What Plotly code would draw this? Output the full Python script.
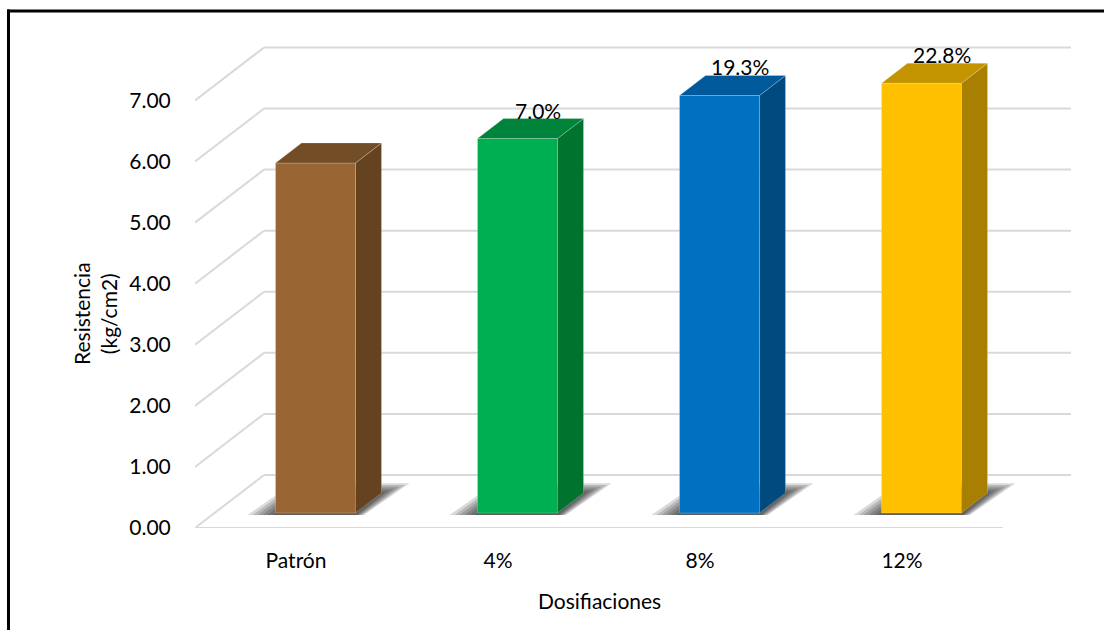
import plotly.graph_objects as go

# ---- data ----
categories = ["Patrón", "4%", "8%", "12%"]
resistencia = [5.730, 6.131, 6.836, 7.037]          # kg/cm2
y_ticks = [0, 1, 2, 3, 4, 5, 6, 7]

front_colors = ["#996633", "#00b050", "#0070c0", "#ffc000"]
side_colors = ["#654321", "#00732f", "#004a80", "#a87f00"]
top_colors = ["#734d26", "#00843c", "#00599a", "#c49300"]

# ---- figure geometry (pixels) ----
W, H = 1118, 644
M_L, M_R, M_T, M_B = 195, 47, 40, 116
PW, PH = W - M_L - M_R, H - M_T - M_B
CAT_PX = 202.0                # width of one category on the front plane
Y_MAX = 7.99
PX_Y = PH / Y_MAX             # pixels per value unit
X_MIN = -0.5
X_MAX = X_MIN + PW / CAT_PX

def dx(px):
    return px / CAT_PX

def dy(px):
    return px / PX_Y

# oblique depth of the walls and the bars
WALL_DX, WALL_DY = dx(69), dy(53)
BAR_OFF_DX, BAR_OFF_DY = dx(19.5), dy(15)
BAR_D_DX, BAR_D_DY = dx(26), dy(20)
BAR_W = dx(80)
X_FRONT_END = len(categories) - 0.5

def to_paper_x(px):
    return (px - M_L) / PW

def to_paper_y(py):
    return (H - M_B - py) / PH

shapes = []
GRID = dict(color="#d9d9d9", width=2)

# side wall + back wall gridlines
for k in y_ticks:
    shapes.append(dict(type="line", xref="x", yref="y", layer="below",
                       x0=X_MIN, y0=k, x1=X_MIN + WALL_DX, y1=k + WALL_DY, line=GRID))
    shapes.append(dict(type="line", xref="x", yref="y", layer="below",
                       x0=X_MIN + WALL_DX, y0=k + WALL_DY, x1=X_MAX, y1=k + WALL_DY, line=GRID))
# front edge of the floor
shapes.append(dict(type="line", xref="x", yref="y", layer="below",
                   x0=X_MIN, y0=0, x1=X_FRONT_END, y1=0, line=GRID))

def poly(pts, close=True):
    p = "M " + " L ".join(f"{x:.5f},{y:.5f}" for x, y in pts)
    return p + " Z" if close else p

# soft floor shadows under each column
for i, v in enumerate(resistencia):
    xl = i + BAR_OFF_DX - BAR_W / 2
    xr = i + BAR_OFF_DX + BAR_W / 2
    yb = BAR_OFF_DY
    for e in [28, 23, 18, 13, 8, 3]:
        ex = dx(e)
        ey = dy(e * 0.35)
        pts = [(xl - ex, yb - dy(2)), (xr + ex * 0.3, yb - dy(2)),
               (xr + BAR_D_DX + ex, yb + BAR_D_DY + ey),
               (xl + BAR_D_DX - ex * 0.3, yb + BAR_D_DY + ey)]
        shapes.append(dict(type="path", xref="x", yref="y", layer="below",
                           path=poly(pts), fillcolor="rgba(0,0,0,0.15)",
                           line=dict(width=0)))

# side and top faces of each column
for i, v in enumerate(resistencia):
    xl = i + BAR_OFF_DX - BAR_W / 2
    xr = i + BAR_OFF_DX + BAR_W / 2
    yb = BAR_OFF_DY
    yt = BAR_OFF_DY + v
    side = [(xr, yb), (xr + BAR_D_DX, yb + BAR_D_DY),
            (xr + BAR_D_DX, yt + BAR_D_DY), (xr, yt)]
    top = [(xl, yt), (xr, yt), (xr + BAR_D_DX, yt + BAR_D_DY),
           (xl + BAR_D_DX, yt + BAR_D_DY)]
    shapes.append(dict(type="path", xref="x", yref="y", layer="above",
                       path=poly(side), fillcolor=side_colors[i],
                       line=dict(width=0.6, color="rgba(255,255,255,0.35)")))
    shapes.append(dict(type="path", xref="x", yref="y", layer="above",
                       path=poly(top), fillcolor=top_colors[i],
                       line=dict(width=0.6, color="rgba(255,255,255,0.35)")))

# outer frame: top and left edges
FRAME = dict(color="black", width=3)
shapes.append(dict(type="line", xref="paper", yref="paper", layer="above",
                   x0=to_paper_x(7), y0=to_paper_y(11), x1=to_paper_x(1104), y1=to_paper_y(11),
                   line=FRAME))
shapes.append(dict(type="line", xref="paper", yref="paper", layer="above",
                   x0=to_paper_x(8.5), y0=to_paper_y(9.5), x1=to_paper_x(8.5), y1=to_paper_y(630),
                   line=FRAME))

fig = go.Figure()
fig.add_trace(go.Bar(
    x=[i + BAR_OFF_DX for i in range(len(categories))],
    y=resistencia,
    base=BAR_OFF_DY,
    width=BAR_W,
    marker=dict(color=front_colors, line=dict(width=0.6, color="rgba(255,255,255,0.35)")),
    hoverinfo="skip",
))

FONT = "Lato, 'Open Sans', sans-serif"
FS = 21
annotations = []
# percentage increase over the reference mix
for i, v in enumerate(resistencia):
    if i == 0:
        continue
    pct = (v / resistencia[0] - 1) * 100
    annotations.append(dict(
        x=i + BAR_OFF_DX + dx(20), y=v + BAR_OFF_DY + BAR_D_DY,
        xref="x", yref="y", text=f"{pct:.1f}%", showarrow=False,
        yanchor="bottom", yshift=-6, font=dict(size=FS, color="black", family=FONT)))

annotations.append(dict(
    x=to_paper_x(95), y=to_paper_y(314), xref="paper", yref="paper",
    text="Resistencia<br>(kg/cm2)", textangle=-90, showarrow=False,
    xanchor="center", yanchor="middle", font=dict(size=FS, color="black", family=FONT)))
annotations.append(dict(
    x=to_paper_x(599), y=to_paper_y(600), xref="paper", yref="paper",
    text="Dosifiaciones", showarrow=False, xanchor="center", yanchor="middle",
    font=dict(size=FS, color="black", family=FONT)))

fig.update_layout(
    width=W, height=H,
    margin=dict(l=M_L, r=M_R, t=M_T, b=M_B),
    paper_bgcolor="white", plot_bgcolor="white",
    showlegend=False,
    shapes=shapes, annotations=annotations,
    font=dict(family=FONT, size=FS, color="black"),
    xaxis=dict(range=[X_MIN, X_MAX], tickmode="array",
               tickvals=list(range(len(categories))), ticktext=categories,
               showgrid=False, zeroline=False, showline=False,
               ticks="outside", ticklen=14, tickcolor="rgba(0,0,0,0)",
               tickfont=dict(size=FS, color="black", family=FONT)),
    yaxis=dict(range=[0, Y_MAX], tickmode="array", tickvals=y_ticks,
               tickformat=".2f", showgrid=False, zeroline=False, showline=False,
               ticks="outside", ticklen=19, tickcolor="rgba(0,0,0,0)",
               tickfont=dict(size=FS, color="black", family=FONT)),
)

fig.write_html("out.html")
